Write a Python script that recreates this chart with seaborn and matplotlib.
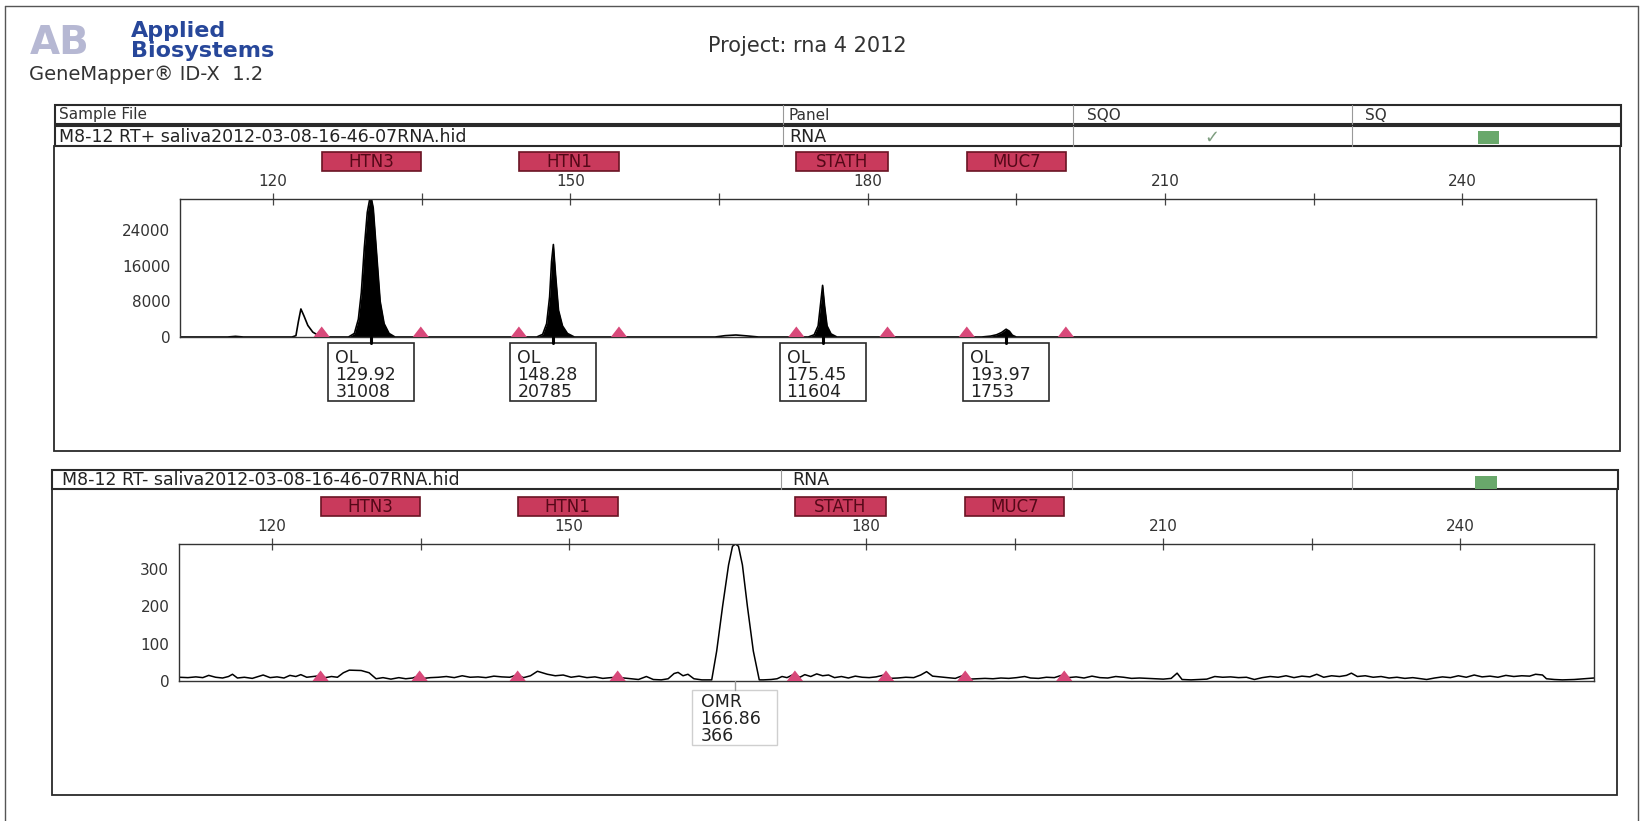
import matplotlib
matplotlib.use("Agg")
import matplotlib.pyplot as plt
from matplotlib.patches import Rectangle
import seaborn as sns

# ---- values ----
x_limits = (110.6, 253.5)
x_major = [120, 150, 180, 210, 240]
x_minor = [135, 165, 195, 225]

genes = ["HTN3", "HTN1", "STATH", "MUC7"]
bin_left = [124.9, 144.8, 172.8, 190.0]
bin_right = [134.9, 154.9, 182.0, 200.0]

# sample 1: RT+
pos_name = "M8-12 RT+ saliva2012-03-08-16-46-07RNA.hid"
pos_ymax = 31008
pos_yticks = [0, 8000, 16000, 24000]
pos_yminor = [4000, 12000, 20000, 28000]

lead_x = [110.6, 115.4, 116.2, 117.0]
lead_y = [0, 0, 150, 0]
shoulder_x = [121.9, 122.3, 122.55, 122.8, 123.1, 123.5, 124.0, 124.6, 125.3]
shoulder_y = [0, 300, 3500, 6300, 4800, 2600, 1100, 300, 0]
htn3_x = [127.6, 128.2, 128.6, 128.9, 129.2, 129.5, 129.75, 129.92, 130.1, 130.4, 130.8, 131.2, 131.7, 132.3]
htn3_y = [0, 800, 4000, 10000, 20000, 28000, 31000, 31008, 29000, 20000, 8000, 3000, 800, 0]
htn1_x = [146.6, 147.2, 147.6, 147.9, 148.1, 148.28, 148.5, 148.8, 149.2, 149.7, 150.4]
htn1_y = [0, 600, 3000, 9000, 17000, 20785, 14000, 6000, 2500, 800, 0]
bleed_x = [164.6, 165.6, 166.7, 167.8, 169.0]
bleed_y = [0, 300, 450, 250, 0]
stath_x = [174.0, 174.6, 175.0, 175.25, 175.45, 175.65, 175.9, 176.3, 176.9]
stath_y = [0, 500, 2500, 7500, 11604, 7000, 2500, 700, 0]
muc7_x = [191.5, 192.4, 193.0, 193.5, 193.97, 194.3, 194.6, 195.0]
muc7_y = [0, 200, 500, 1000, 1753, 1300, 400, 0]
tail_x = [253.5]
tail_y = [0]

pos_calls = ["OL", "OL", "OL", "OL"]
pos_sizes = [129.92, 148.28, 175.45, 193.97]
pos_heights = [31008, 20785, 11604, 1753]

# sample 2: RT-
neg_name = "M8-12 RT- saliva2012-03-08-16-46-07RNA.hid"
neg_ymax = 366
neg_yticks = [0, 100, 200, 300]
neg_yminor = [50, 150, 250, 350]

noise_l_x = [110.6, 111.5, 112.3, 113.0, 113.6, 114.3, 115.0, 115.6, 116.0, 116.5,
             117.2, 118.0, 118.6, 119.1, 119.8, 120.5, 121.2, 121.8, 122.4, 122.9,
             123.5, 124.2, 124.8, 125.4, 126.0, 126.6, 127.2, 127.8, 129.0, 129.8,
             130.5, 131.2, 132.0, 132.8, 133.5, 134.2, 134.7, 135.3, 136.0, 136.8,
             137.6, 138.4, 139.2, 140.0, 140.8, 141.6, 142.4, 143.2, 144.0, 144.7,
             145.4, 146.1, 146.8, 147.8, 148.6, 149.4, 150.2, 151.0, 151.8, 152.6,
             153.4, 154.2, 154.8, 155.5, 156.3, 157.0, 157.8, 158.5, 159.3, 160.0,
             160.6, 161.0, 161.5, 162.0, 162.6, 163.4, 164.0]
noise_l_y = [10, 9, 11, 9, 15, 10, 8, 12, 18, 8,
             10, 7, 12, 16, 9, 11, 8, 15, 12, 17,
             10, 12, 14, 9, 12, 10, 22, 29, 28, 22,
             6, 9, 5, 9, 6, 8, 13, 7, 9, 10,
             12, 9, 14, 10, 11, 9, 13, 11, 10, 16,
             9, 14, 26, 18, 14, 16, 10, 13, 9, 11,
             7, 9, 10, 8, 6, 4, 12, 4, 3, 6,
             20, 23, 14, 18, 6, 3, 3]
omr_x = [164.4, 164.9, 165.5, 166.1, 166.5, 166.8, 167.1, 167.5, 168.0, 168.6, 169.2]
omr_y = [3, 80, 200, 310, 360, 366, 360, 310, 200, 80, 3]
noise_r_x = [169.6, 170.4, 171.0, 171.5, 172.0, 172.7, 173.3, 173.8, 174.4, 175.0,
             175.6, 176.2, 176.8, 177.5, 178.2, 178.9, 179.6, 180.3, 181.0, 181.8,
             182.4, 183.2, 184.0, 184.8, 185.5, 186.1, 186.7, 187.4, 188.2, 189.0,
             189.8, 190.4, 191.2, 192.0, 192.8, 193.6, 194.4, 195.2, 196.0, 196.6,
             197.4, 198.2, 199.0, 199.7, 200.4, 201.2, 202.0, 202.8, 203.6, 204.4,
             205.2, 206.0, 206.8, 207.6, 208.4, 209.2, 210.0, 210.8, 211.4, 211.9,
             212.8, 213.6, 214.4, 215.2, 216.0, 216.8, 217.6, 218.4, 219.2, 220.0,
             220.8, 221.6, 222.4, 223.2, 224.0, 224.8, 225.5, 226.2, 227.0, 227.8,
             228.5, 229.0, 229.6, 230.4, 231.2, 232.0, 232.8, 233.6, 234.4, 235.2,
             236.0, 236.6, 237.4, 238.2, 239.0, 239.8, 240.6, 241.4, 242.2, 243.0,
             243.8, 244.6, 245.4, 246.2, 247.0, 247.6, 248.3, 248.7, 249.5, 250.3,
             251.5, 252.5, 253.5]
noise_r_y = [3, 4, 6, 12, 9, 18, 10, 17, 12, 19,
             14, 16, 9, 12, 8, 13, 10, 9, 11, 16,
             7, 8, 10, 9, 16, 25, 13, 11, 9, 7,
             15, 5, 6, 7, 6, 8, 7, 9, 12, 8,
             7, 10, 9, 15, 9, 11, 8, 13, 9, 8,
             12, 10, 7, 8, 7, 6, 5, 7, 21, 4,
             3, 4, 5, 12, 10, 11, 9, 10, 4, 9,
             12, 10, 14, 9, 13, 11, 18, 10, 14, 12,
             15, 21, 12, 14, 10, 12, 8, 10, 7, 9,
             6, 4, 8, 11, 9, 14, 10, 16, 11, 13,
             10, 15, 12, 14, 13, 18, 16, 6, 4, 3,
             4, 6, 8]

neg_calls = ["OMR"]
neg_sizes = [166.86]
neg_heights = [366]

# ---- figure ----
sns.set_theme(style="white")
plt.rcParams["font.family"] = ["DejaVu Sans"]

W, H = 1641, 821
fig = plt.figure(figsize=(W / 100, H / 100), dpi=100)
fig.patch.set_facecolor("white")


def px_axes(l, t, r, b):
    return fig.add_axes([l / W, 1 - b / H, (r - l) / W, (b - t) / H])


ax1 = px_axes(180, 199, 1596, 337)
ax2 = px_axes(179, 544, 1594, 681)
page = fig.add_axes([0, 0, 1, 1], zorder=5)
page.set_xlim(0, W)
page.set_ylim(H, 0)
page.axis("off")
page.patch.set_alpha(0)

ink = "#2a2a2a"
tri = [(-1.0, 0.0), (1.0, 0.0), (0.0, 1.3)]
edges = bin_left + bin_right

top_x = lead_x + shoulder_x + htn3_x + htn1_x + bleed_x + stath_x + muc7_x + tail_x
top_y = lead_y + shoulder_y + htn3_y + htn1_y + bleed_y + stath_y + muc7_y + tail_y
bot_x = noise_l_x + omr_x + noise_r_x
bot_y = noise_l_y + omr_y + noise_r_y

sns.lineplot(x=top_x, y=top_y, ax=ax1, color="black", lw=1.2, estimator=None, sort=False)
for fx, fy in [(htn3_x, htn3_y), (htn1_x, htn1_y), (stath_x, stath_y), (muc7_x, muc7_y)]:
    ax1.fill_between(fx, fy, 0, color="black", lw=0)
sns.lineplot(x=bot_x, y=bot_y, ax=ax2, color="black", lw=1.1, estimator=None, sort=False)

for ax, ymax, yt, ym in [(ax1, pos_ymax, pos_yticks, pos_yminor),
                         (ax2, neg_ymax, neg_yticks, neg_yminor)]:
    sns.scatterplot(x=edges, y=[0] * len(edges), ax=ax, marker=tri, s=230,
                    color="#d8497a", edgecolor="none", zorder=3, clip_on=False)
    ax.set_xlim(*x_limits)
    ax.set_ylim(0, ymax)
    ax.set_xlabel("")
    ax.set_ylabel("")
    ax.xaxis.tick_top()
    ax.set_xticks(x_major)
    ax.set_xticklabels([str(v) for v in x_major])
    ax.set_xticks(x_minor, minor=True)
    ax.set_yticks(yt)
    ax.set_yticklabels([str(v) for v in yt])
    ax.set_yticks(ym, minor=True)
    ax.tick_params(axis="both", which="both", direction="inout", length=8, width=0.9,
                   color="#444444", labelsize=11, labelcolor="#333333")
    ax.tick_params(axis="x", pad=3)
    ax.tick_params(axis="y", pad=3)
    for s in ax.spines.values():
        s.set_color("#333333")
        s.set_linewidth(1.0)
    ax.set_facecolor("white")


def to_page(ax, x, y):
    dx, dy = ax.transData.transform((x, y))
    return dx, H - dy


# page frame and header
page.plot([5, 5], [6, 821], color="#555555", lw=1)
page.plot([5, 1638], [6, 6], color="#555555", lw=1)
page.plot([1638, 1638], [6, 821], color="#555555", lw=1)

page.text(30, 54, "AB", fontsize=28, fontweight="bold", color="#b6b8d3", va="baseline")
page.text(131, 37, "Applied", fontsize=16, fontweight="bold", color="#27479a", va="baseline")
page.text(131, 57, "Biosystems", fontsize=16, fontweight="bold", color="#27479a", va="baseline")
page.text(29, 80, "GeneMapper\u00ae ID-X  1.2", fontsize=14, color="#333333", va="baseline")
page.text(708, 52, "Project: rna 4 2012", fontsize=15, color="#333333", va="baseline")


def row_box(l, t, r, b, dividers):
    page.add_patch(Rectangle((l, t), r - l, b - t, fill=False, ec=ink, lw=1.5))
    for d in dividers:
        page.plot([d, d], [t, b], color="#999999", lw=0.8)


row_box(55, 105, 1621, 124, [783, 1073, 1352])
row_box(55, 126, 1621, 146, [783, 1073, 1352])
page.add_patch(Rectangle((54, 146), 1566, 305, fill=False, ec=ink, lw=1.3))
row_box(52, 470, 1618, 489, [781, 1072, 1352])
page.add_patch(Rectangle((52, 489), 1565, 306, fill=False, ec=ink, lw=1.3))

for label, x in [("Sample File", 59), ("Panel", 789), ("SQO", 1087), ("SQ", 1365)]:
    page.text(x, 115, label, fontsize=11, color="#333333", va="center")
page.text(59, 137, pos_name, fontsize=12.5, color="#222222", va="center")
page.text(789, 137, "RNA", fontsize=12.5, color="#222222", va="center")
page.text(1212, 138, "\u2713", fontsize=13, color="#7e9e80", va="center", ha="center")
page.add_patch(Rectangle((1478, 131), 21, 13, fc="#69a86b", ec="none"))
page.text(62, 480, neg_name, fontsize=12.5, color="#222222", va="center")
page.text(792, 480, "RNA", fontsize=12.5, color="#222222", va="center")
page.add_patch(Rectangle((1475, 476), 22, 13, fc="#69a86b", ec="none"))

# gene bins above each panel
for ax, top, bot in [(ax1, 152, 171), (ax2, 497, 516)]:
    for g, l, r in zip(genes, bin_left, bin_right):
        xl, _ = to_page(ax, l, 0)
        xr, _ = to_page(ax, r, 0)
        page.add_patch(Rectangle((xl, top), xr - xl, bot - top, fc="#c93a5c", ec="#6a1424", lw=1.2))
        page.text((xl + xr) / 2, (top + bot) / 2 + 0.5, g, fontsize=12, color="#550818",
                  ha="center", va="center")

# allele call boxes
for c, s_, h in zip(pos_calls, pos_sizes, pos_heights):
    cx, by = to_page(ax1, s_, 0)
    page.plot([cx, cx], [by, by + 6], color="black", lw=2.2)
    page.add_patch(Rectangle((cx - 43, by + 6), 86, 58, fc="white", ec=ink, lw=1.2))
    for txt, dy in zip([c, f"{s_:.2f}", str(h)], [15, 32, 49]):
        page.text(cx - 36, by + 6 + dy, txt, fontsize=12.5, color="#222222", va="center")

for c, s_, h in zip(neg_calls, neg_sizes, neg_heights):
    cx, by = to_page(ax2, s_, 0)
    cx -= 1.5
    page.plot([cx, cx], [by, by + 9], color="#999999", lw=1)
    page.add_patch(Rectangle((cx - 43, by + 9), 85, 55, fc="white", ec="#cfcfcf", lw=1))
    for txt, dy in zip([c, f"{s_:.2f}", str(h)], [12, 29, 46]):
        page.text(cx - 34, by + 9 + dy, txt, fontsize=12.5, color="#222222", va="center")

fig.savefig("out.png", dpi=100, facecolor="white")
